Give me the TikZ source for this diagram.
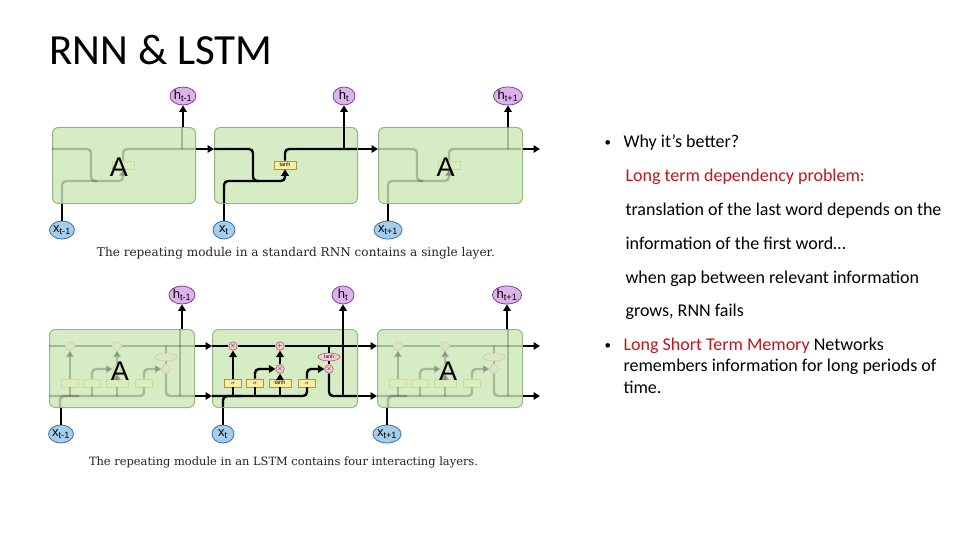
\documentclass[tikz,border=0pt]{standalone}
\usepackage{fontspec}
\usepackage{graphicx}
\setmainfont{Carlito}
\newfontfamily\labfont{Liberation Sans}
\newfontfamily\capfont{DejaVu Serif}
\usetikzlibrary{shapes.geometric,arrows.meta}
\definecolor{boxf}{RGB}{214,236,196}
\definecolor{boxb}{RGB}{150,182,132}
\definecolor{hf}{RGB}{222,178,236}
\definecolor{hb}{RGB}{120,70,150}
\definecolor{xf}{RGB}{165,205,236}
\definecolor{xb}{RGB}{60,110,160}
\definecolor{yf}{RGB}{250,238,160}
\definecolor{yb}{RGB}{170,150,60}
\definecolor{pf}{RGB}{245,205,215}
\definecolor{pb}{RGB}{170,90,110}
\definecolor{redtxt}{RGB}{196,20,28}
\definecolor{captxt}{RGB}{35,35,35}
\tikzset{
  box/.style={draw=boxb, fill=boxf, rounded corners=6pt, line width=1pt, minimum height=#1, inner sep=0pt, anchor=north west},
  hc/.style={ellipse, draw=hb, fill=hf, minimum width=22pt, minimum height=18pt, inner sep=0pt, line width=0.8pt, font=\labfont\fontsize{13}{13}\selectfont},
  xc/.style={ellipse, draw=xb, fill=xf, minimum width=22pt, minimum height=18pt, inner sep=0pt, line width=0.8pt, font=\labfont\fontsize{13}{13}\selectfont},
  ln/.style={line width=2.4pt, rounded corners=4pt},
  arrln/.style={line width=2.4pt, rounded corners=4pt, -{Triangle[length=6.5pt,width=7.5pt]}},
  op/.style={circle, draw=pb, fill=pf, minimum size=8.5pt, inner sep=0pt, line width=0.6pt, font=\fontsize{6}{6}\selectfont},
  opel/.style={ellipse, draw=pb, fill=pf, minimum width=22pt, minimum height=8pt, inner sep=0pt, line width=0.6pt, font=\labfont\fontsize{5}{5}\selectfont},
  gate/.style={draw=yb, fill=yf, minimum width=17pt, minimum height=8pt, inner sep=0.5pt, line width=0.6pt, font=\labfont\fontsize{5.5}{5.5}\selectfont},
  Alab/.style={font=\labfont\fontsize{27}{27}\selectfont},
  body/.style={anchor=base west, font=\fontsize{18}{22}\selectfont},
  bul/.style={anchor=base west, font=\fontsize{13}{22}\selectfont},
  captext/.style={text=captxt, font=\capfont\fontsize{10}{12}\selectfont},
}
\newcommand\gtxt[1]{#1}
% RNN cell internals: #1 = left, #2 = top, #3 = prefix
\newcommand\rnncell[3]{%
  \node[gate, minimum width=22pt] (#3tb) at (#1+71,#2+38) {\gtxt{tanh}};
  \draw[arrln] (#1,#2+22) -| (#1+39,#2+54) -| (#3tb.south);
  \draw[ln] (#1+10,#2+76) |- (#1+45,#2+54);
  \draw[ln] (#3tb.north) |- (#1+143,#2+22);
  \draw[ln] (#1+130,#2+22) -- (#1+130,#2);
}
% LSTM cell internals
\newcommand\lstmcell[3]{%
  \node[op] (#3fx) at (#1+21,#2+17) {\gtxt{$\times$}};
  \node[op] (#3ad) at (#1+68,#2+17) {\gtxt{$+$}};
  \node[op] (#3ix) at (#1+68,#2+40) {\gtxt{$\times$}};
  \node[op] (#3ox) at (#1+117,#2+40) {\gtxt{$\times$}};
  \node[opel] (#3th) at (#1+117,#2+28) {\gtxt{tanh}};
  \node[gate] (#3g1) at (#1+21,#2+54) {\gtxt{$\sigma$}};
  \node[gate] (#3g2) at (#1+43,#2+54) {\gtxt{$\sigma$}};
  \node[gate, minimum width=22pt] (#3g3) at (#1+68,#2+54) {\gtxt{tanh}};
  \node[gate] (#3g4) at (#1+95,#2+54) {\gtxt{$\sigma$}};
  \draw[ln] (#1,#2+17) -- (#3fx);
  \draw[ln] (#3fx) -- (#3ad);
  \draw[ln] (#3ad) -- (#1+145,#2+17);
  \draw[ln] (#1,#2+67) -| (#3g4.south);
  \draw[ln] (#1+21,#2+67) -- (#3g1.south);
  \draw[ln] (#1+43,#2+67) -- (#3g2.south);
  \draw[ln] (#1+68,#2+67) -- (#3g3.south);
  \draw[arrln] (#3g1) -- (#3fx);
  \draw[arrln] (#3g2.north) |- (#3ix);
  \draw[arrln] (#3g3) -- (#3ix);
  \draw[arrln] (#3ix) -- (#3ad);
  \draw[arrln] (#3g4.north) |- (#3ox);
  \draw[ln] (#1+117,#2+17) -- (#3th);
  \draw[ln] (#3th) -- (#3ox);
  \draw[ln] (#3ox) |- (#1+145,#2+67);
  \draw[ln] (#1+131,#2+67) -- (#1+131,#2);
  \draw[ln] (#1+11,#2+78) |- (#1+30,#2+67);
}
\begin{document}
\begin{tikzpicture}[x=1pt,y=-1pt]
\useasboundingbox[fill=white] (0,0) rectangle (960,540);

% title
\node[anchor=base west, font=\fontsize{43}{50}\selectfont] (title) at (46,65) {RNN \& LSTM};

% ---------------- RNN ----------------
\node[box=76pt, minimum width=143pt] (r1) at (52,127) {};
\node[box=76pt, minimum width=143pt] (r2) at (214,127) {};
\node[box=76pt, minimum width=144pt] (r3) at (378,127) {};
\begin{scope}[opacity=0.22]
  \renewcommand\gtxt[1]{}
  \rnncell{52}{127}{ra}
  \rnncell{378}{127}{rc}
\end{scope}
\rnncell{214}{127}{rb}
\node[Alab] (rA1) at ([xshift=-5pt,yshift=-2pt]r1.center) {A};
\node[Alab] (rA3) at ([xshift=-5pt,yshift=-2pt]r3.center) {A};

\node[hc] (rh1) at (183,96) {h\textsubscript{t-1}};
\node[hc] (rh2) at (344,96) {h\textsubscript{t}};
\node[hc] (rh3) at (508,96) {h\textsubscript{t+1}};
\node[xc] (rx1) at (62,230) {x\textsubscript{t-1}};
\node[xc] (rx2) at (224,230) {x\textsubscript{t}};
\node[xc] (rx3) at (388,230) {x\textsubscript{t+1}};
\coordinate (rend) at (540,149);

\draw[arrln] (rh1 |- r1.north) -- (rh1);
\draw[arrln] (rh2 |- rend) -- (rh2);
\draw[arrln] (rh3 |- r3.north) -- (rh3);
\draw[ln] (rx1) -- (rx1 |- r1.south);
\draw[ln] (rx2) -- (rx2 |- r2.south);
\draw[ln] (rx3) -- (rx3 |- r3.south);
\draw[arrln] ([yshift=-22pt]r1.north east) -- ([yshift=-22pt]r2.north west);
\draw[arrln] ([yshift=-22pt]r2.north east) -- ([yshift=-22pt]r3.north west);
\draw[arrln] ([yshift=-22pt]r3.north east) -- (rend);

\node[captext] (cap1) at (296,253) {\resizebox{398pt}{!}{The repeating module in a standard RNN contains a single layer.}};

% ---------------- LSTM ----------------
\node[box=78pt, minimum width=145pt] (l1) at (49,329) {};
\node[box=78pt, minimum width=145pt] (l2) at (212,329) {};
\node[box=78pt, minimum width=145pt] (l3) at (377,329) {};
\begin{scope}[opacity=0.22]
  \renewcommand\gtxt[1]{}
  \lstmcell{49}{329}{la}
  \lstmcell{377}{329}{lc}
\end{scope}
\lstmcell{212}{329}{lb}
\node[Alab] (lA1) at ([xshift=-2pt,yshift=-3pt]l1.center) {A};
\node[Alab] (lA3) at ([xshift=-2pt,yshift=-3pt]l3.center) {A};

\node[hc] (lh1) at (182,295) {h\textsubscript{t-1}};
\node[hc] (lh2) at (343,295) {h\textsubscript{t}};
\node[hc] (lh3) at (507,295) {h\textsubscript{t+1}};
\node[xc] (lx1) at (61,434) {x\textsubscript{t-1}};
\node[xc] (lx2) at (223,434) {x\textsubscript{t}};
\node[xc] (lx3) at (387,434) {x\textsubscript{t+1}};
\coordinate (lend1) at (540,346);
\coordinate (lend2) at (540,396);

\draw[arrln] (lh1 |- l1.north) -- (lh1);
\draw[arrln] (lh2 |- l2.north) -- (lh2);
\draw[arrln] (lh3 |- l3.north) -- (lh3);
\draw[ln] (lx1) -- (lx1 |- l1.south);
\draw[ln] (lx2) -- (lx2 |- l2.south);
\draw[ln] (lx3) -- (lx3 |- l3.south);
\draw[arrln] ([yshift=-17pt]l1.north east) -- ([yshift=-17pt]l2.north west);
\draw[arrln] ([yshift=-67pt]l1.north east) -- ([yshift=-67pt]l2.north west);
\draw[arrln] ([yshift=-17pt]l2.north east) -- ([yshift=-17pt]l3.north west);
\draw[arrln] ([yshift=-67pt]l2.north east) -- ([yshift=-67pt]l3.north west);
\draw[arrln] ([yshift=-17pt]l3.north east) -- (lend1);
\draw[arrln] ([yshift=-67pt]l3.north east) -- (lend2);

\node[captext] (cap2) at (283.5,462) {\resizebox{389pt}{!}{The repeating module in an LSTM contains four interacting layers.}};

% ---------------- text ----------------
\node[bul] (b1) at (601,147) {•};
\node[body] (t1) at (620,148) {Why it’s better?};
\node[body, text=redtxt] (t2) at (622,182) {Long term dependency problem:};
\node[body] (t3) at (622,215) {translation of the last word depends on the};
\node[body] (t4) at (622,249) {information of the first word…};
\node[body] (t5) at (622,283) {when gap between relevant information};
\node[body] (t6) at (622,316) {grows, RNN fails};
\node[bul] (b2) at (601,349) {•};
\node[body] (t7) at (620,350) {\textcolor{redtxt}{Long Short Term Memory} Networks};
\node[body] (t8) at (620,371) {remembers information for long periods of};
\node[body] (t9) at (620,393) {time.};
\end{tikzpicture}
\end{document}
